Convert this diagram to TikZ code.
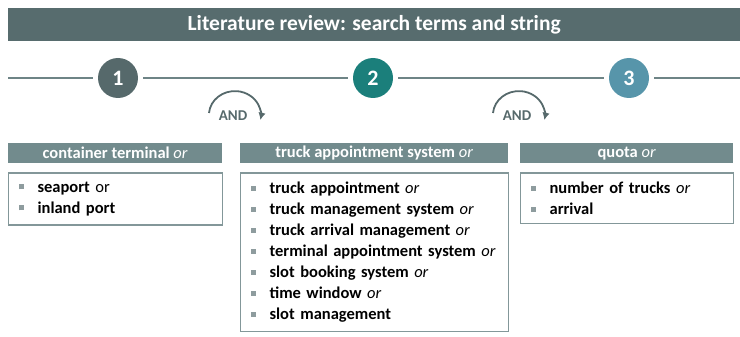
\documentclass[tikz,border=0pt]{standalone}
\usepackage{fontspec}
\setmainfont{Carlito}
\usepackage{xcolor}
\definecolor{slateGrey}{HTML}{576C6E}
\definecolor{lineGrey}{HTML}{6E8486}
\definecolor{headGrey}{HTML}{728B8D}
\definecolor{boxGrey}{HTML}{839799}
\definecolor{bulletGrey}{HTML}{8E9C9E}
\definecolor{stepOne}{HTML}{56696B}
\definecolor{stepTwo}{HTML}{1B7F7B}
\definecolor{stepThree}{HTML}{5795AA}
\usepackage{tikz}
\usetikzlibrary{arrows.meta}
\tikzset{arrow/.style = {> = {Latex[length = 2.6mm, width = 2.6mm]}}}
\usetikzlibrary{positioning}

\newcommand{\sqbullet}{\textcolor{bulletGrey}{\rule[0.18em]{0.3em}{0.3em}}}
\newcommand{\term}[1]{\makebox[19pt][l]{\sqbullet}\textbf{#1}}

\begin{document}
\begin{tikzpicture}[x = 1pt, y = 1pt,
	numball/.style = {circle, minimum size = 40pt, inner sep = 0pt, text = white, font = \bfseries\fontsize{22}{22}\selectfont},
	header/.style = {rectangle, fill = headGrey, text = white, anchor = north west, inner sep = 0pt, minimum height = 20pt, font = \bfseries\fontsize{16.5}{18}\selectfont},
	termbox/.style = {rectangle, draw = boxGrey, line width = 1.2pt, align = left, inner xsep = 10pt, inner ysep = 9pt, font = \fontsize{16.5}{21}\selectfont},
	timeline/.style = {draw = lineGrey, line width = 2pt},
	andlabel/.style = {text = stepOne, font = \bfseries\fontsize{15}{15}\selectfont, inner sep = 1pt}]
	\useasboundingbox (0, 0) rectangle (740, -337);

	%% Title
	\node[fill = slateGrey, text = white, anchor = west, minimum width = 732pt, minimum height = 33pt, font = \bfseries\fontsize{21.5}{23}\selectfont] (title) at (8, -24.5) {Literature review: search terms and string};

	%% Timeline with the three steps
	\coordinate (lineL) at (8, -78);
	\coordinate (lineR) at (740, -78);
	\node[numball, fill = stepOne] (num1) at (118, -78) {1};
	\node[numball, fill = stepTwo] (num2) at (373, -78) {2};
	\node[numball, fill = stepThree] (num3) at (629, -78) {3};

	\draw[timeline, shorten > = 5pt] (lineL) -- (num1);
	\draw[timeline, shorten < = 5pt, shorten > = 5pt] (num1) -- (num2);
	\draw[timeline, shorten < = 5pt, shorten > = 5pt] (num2) -- (num3);
	\draw[timeline, shorten < = 5pt] (num3) -- (lineR);

	%% AND between the steps
	\node[andlabel] (and1) at (233, -116) {AND};
	\node[andlabel] (and2) at (517, -116) {AND};
	\draw[->, arrow, draw = stepOne, line width = 1.8pt] ([shift = {(-24pt, 3pt)}]and1.center) arc[start angle = 175, end angle = -12, x radius = 26pt, y radius = 24pt];
	\draw[->, arrow, draw = stepOne, line width = 1.8pt] ([shift = {(-24pt, 3pt)}]and2.center) arc[start angle = 175, end angle = -12, x radius = 26pt, y radius = 24pt];

	%% Headers
	\node[header, minimum width = 214pt] (hdrA) at (8, -143) {container terminal \textit{\mdseries or}};
	\node[header, minimum width = 268pt] (hdrB) at (240, -143) {truck appointment system \textit{\mdseries or}};
	\node[header, minimum width = 213pt] (hdrC) at (520, -143) {quota \textit{\mdseries or}};

	%% Search terms
	\node[termbox, text width = 194pt, below right = 9pt and 0pt of hdrA.south west] (termsA) {\term{seaport} or\\
		\term{inland port}};
	\node[termbox, text width = 248pt, below right = 9pt and 0pt of hdrB.south west] (termsB) {\term{truck appointment} \textit{or}\\
		\term{truck management system} \textit{or}\\
		\term{truck arrival management} \textit{or}\\
		\term{terminal appointment system} \textit{or}\\
		\term{slot booking system} \textit{or}\\
		\term{time window} \textit{or}\\
		\term{slot management}};
	\node[termbox, text width = 193pt, below right = 9pt and 0pt of hdrC.south west] (termsC) {\term{number of trucks} \textit{or}\\
		\term{arrival}};
\end{tikzpicture}
\end{document}
